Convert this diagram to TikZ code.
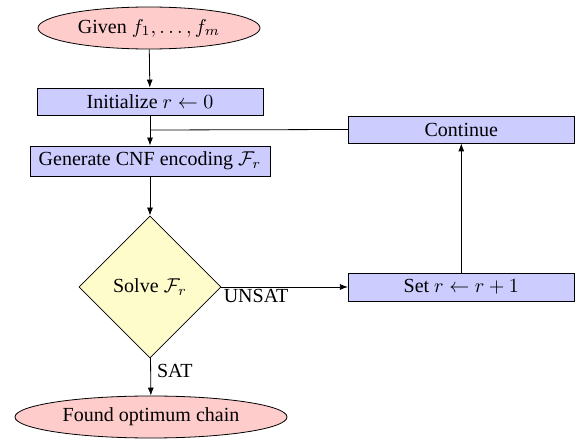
\documentclass[tikz,border=0pt]{standalone}
\usepackage{fontspec}
\setmainfont{Liberation Serif}
\usetikzlibrary{shapes.geometric,arrows.meta}
\begin{document}
\begin{tikzpicture}[x=0.5pt,y=-0.5pt,
  term/.style={ellipse,draw,fill=red!20,inner sep=0pt},
  procbox/.style={rectangle,draw,fill=blue!20,inner sep=0pt},
  decide/.style={diamond,draw,fill=yellow!20,inner sep=0pt,aspect=1},
  conn/.style={draw,-{Latex[length=4pt,width=3pt]}},
  plain/.style={draw}]
\useasboundingbox (0,0) rectangle (575,439);
\node[term,minimum width=111pt,minimum height=21pt] (given) at (149,28) {Given $f_1,\ldots,f_m$};
\node[procbox,minimum width=113pt,minimum height=13.5pt] (init) at (150,101.5) {Initialize $r\leftarrow 0$};
\node[procbox,minimum width=120pt,minimum height=15pt] (gen) at (150,161) {Generate CNF encoding $\mathcal{F}_r$};
\node[decide,minimum width=71pt,minimum height=71pt] (solve) at (150,287) {Solve $\mathcal{F}_r$};
\node[term,minimum width=136pt,minimum height=21pt] (found) at (151,417) {Found optimum chain};
\node[procbox,minimum width=113pt,minimum height=13.5pt] (cont) at (461.3,129.5) {Continue};
\node[procbox,minimum width=113pt,minimum height=14pt] (setr) at (461.3,287) {Set $r\leftarrow r+1$};
\coordinate (merge) at (150,130);
\path[conn] (given) -- (init);
\path[conn] (init) -- (gen);
\path[plain] (cont.west) -- (merge);
\path[conn] (gen) -- (solve);
\path[conn] (solve) -- node[anchor=north west,pos=0,inner sep=1pt] {UNSAT} (setr);
\path[conn] (solve) -- node[anchor=west,pos=0.35,inner sep=3pt] {SAT} (found);
\path[conn] (setr) -- (cont);
\end{tikzpicture}
\end{document}
